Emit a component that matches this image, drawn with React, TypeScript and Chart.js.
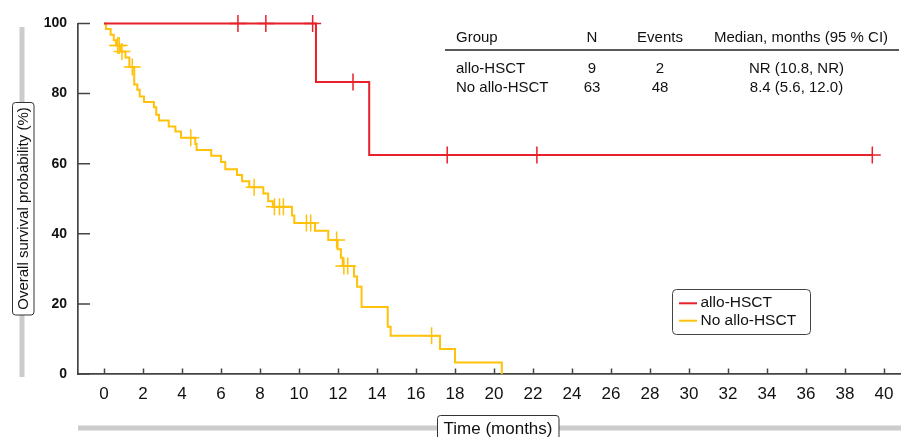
import React, { useEffect, useRef } from 'react';
import { Chart, registerables } from 'chart.js';

Chart.register(...registerables);

// ---------- data ----------
const xTicks = [0, 2, 4, 6, 8, 10, 12, 14, 16, 18, 20, 22, 24, 26, 28, 30, 32, 34, 36, 38, 40];
const yTicks = [0, 20, 40, 60, 80, 100];

const groups = ['allo-HSCT', 'No allo-HSCT'];
const groupN = ['9', '63'];
const groupEvents = ['2', '48'];
const groupMedian = ['NR (10.8, NR)', '8.4 (5.6, 12.0)'];
const tableHeaders = ['Group', 'N', 'Events', 'Median, months (95 % CI)'];

// allo-HSCT: step times and survival (%) after each step
const alloTimes = [0, 10.87, 13.6, 39.4];
const alloSurv = [100, 83.3, 62.5, 62.5];
const alloCensor = [6.87, 8.3, 10.7, 12.77, 17.6, 22.2, 39.4];

// No allo-HSCT
const noAlloTimes = [0, 0.1, 0.34, 0.5, 0.62, 0.85, 1.1, 1.3, 1.55, 1.71, 1.83, 2.05, 2.56, 2.68, 2.82, 3.32, 3.66, 3.95, 4.68, 4.75, 5.5, 6.0, 6.22, 6.82, 7.08, 7.45, 8.17, 8.42, 8.66, 9.64, 9.76, 10.82, 11.5, 11.98, 12.15, 12.24, 12.82, 12.98, 13.21, 14.55, 14.7, 17.23, 18.0, 20.4];
const noAlloSurv = [100, 98.4, 96.8, 95.2, 93.7, 92.0, 90.3, 87.6, 82.6, 81.1, 79.2, 77.6, 76.1, 74.0, 72.3, 70.6, 69.2, 67.4, 65.6, 63.9, 62.3, 60.5, 58.4, 56.8, 55.0, 53.3, 51.5, 49.3, 47.7, 45.2, 43.1, 40.9, 38.2, 35.6, 33.2, 30.8, 27.8, 24.9, 19.1, 13.5, 10.9, 7.1, 3.3, 0];
const noAlloCensor = [0.7, 0.78, 0.92, 1.45, 4.45, 7.7, 8.74, 9.0, 9.2, 10.38, 10.6, 11.93, 12.3, 12.5, 16.8];

// ---------- style ----------
const RED = '#E8202A';
const YELLOW = '#FFC10A';
const AXIS = '#444444';
const TEXT = '#111111';
const BAR = '#cccccc';
const FONT = '"Liberation Sans", Arial, Helvetica, sans-serif';

const X_MIN = -26 / 19.5;
const X_MAX = 797 / 19.5;

function toXY(ts: number[], ss: number[]) {
  return ts.map((t, i) => ({ x: t, y: ss[i] }));
}
function survAt(ts: number[], ss: number[], t: number) {
  let v = ss[0];
  for (let i = 0; i < ts.length; i++) if (ts[i] <= t) v = ss[i];
  return v;
}
function censorXY(cs: number[], ts: number[], ss: number[]) {
  return cs.map((c) => ({ x: c, y: survAt(ts, ss, c) }));
}

const fixArea = {
  id: 'fixArea',
  afterLayout(chart: any) {
    const xs = chart.scales.x;
    chart.chartArea.right = chart.width;
    chart.chartArea.width = chart.chartArea.right - chart.chartArea.left;
    xs.right = chart.width;
    xs.width = xs.right - xs.left;
    xs.configure();
  },
};

const decor = {
  id: 'decor',
  afterDraw(chart: any) {
    const ctx = chart.ctx as CanvasRenderingContext2D;
    const xs = chart.scales.x;
    const ys = chart.scales.y;
    const area = chart.chartArea;
    ctx.save();

    // inward tick marks
    ctx.strokeStyle = AXIS;
    ctx.lineWidth = 1.5;
    ctx.beginPath();
    xTicks.forEach((v) => {
      const px = Math.round(xs.getPixelForValue(v)) + 0.5;
      ctx.moveTo(px, area.bottom);
      ctx.lineTo(px, area.bottom - 5.5);
    });
    yTicks.forEach((v) => {
      const py = ys.getPixelForValue(v);
      ctx.moveTo(area.left, py);
      ctx.lineTo(area.left + 12, py);
    });
    ctx.stroke();

    // gray range bars
    ctx.fillStyle = BAR;
    ctx.fillRect(19.5, 27, 5, 350);
    ctx.fillRect(area.left, 425.5, chart.width - area.left, 5);

    // y-axis title box
    ctx.fillStyle = '#ffffff';
    ctx.strokeStyle = '#333333';
    ctx.lineWidth = 1;
    ctx.beginPath();
    (ctx as any).roundRect(12.5, 102.5, 21.5, 212.5, 3);
    ctx.fill();
    ctx.stroke();
    ctx.fillStyle = TEXT;
    ctx.font = `15px ${FONT}`;
    ctx.textAlign = 'center';
    ctx.textBaseline = 'middle';
    ctx.save();
    ctx.translate(23.5, 208.5);
    ctx.rotate(-Math.PI / 2);
    ctx.fillText('Overall survival probability (%)', 0, 0);
    ctx.restore();

    // x-axis title box
    ctx.fillStyle = '#ffffff';
    ctx.beginPath();
    (ctx as any).roundRect(437.5, 415.5, 121.5, 30, 3);
    ctx.fill();
    ctx.stroke();
    ctx.fillStyle = TEXT;
    ctx.font = `17px ${FONT}`;
    ctx.textBaseline = 'alphabetic';
    ctx.fillText('Time (months)', 498, 434);

    // summary table
    ctx.font = `15px ${FONT}`;
    ctx.fillStyle = TEXT;
    const colX = [456, 592, 660, 801];
    const valX = [456, 592, 660, 796.5];
    tableHeaders.forEach((h, i) => {
      ctx.textAlign = i === 0 ? 'left' : 'center';
      ctx.fillText(h, colX[i], 41.5);
    });
    ctx.strokeStyle = '#222222';
    ctx.lineWidth = 1.3;
    ctx.beginPath();
    ctx.moveTo(445, 50);
    ctx.lineTo(899, 50);
    ctx.stroke();
    const rowY = [72.7, 91.7];
    groups.forEach((g, r) => {
      const cells = [g, groupN[r], groupEvents[r], groupMedian[r]];
      cells.forEach((c, i) => {
        ctx.textAlign = i === 0 ? 'left' : 'center';
        ctx.fillText(c, valX[i], rowY[r]);
      });
    });

    // legend
    ctx.fillStyle = '#ffffff';
    ctx.strokeStyle = '#444444';
    ctx.lineWidth = 1;
    ctx.beginPath();
    (ctx as any).roundRect(672.5, 289.5, 138, 45, 4);
    ctx.fill();
    ctx.stroke();
    const legY = [303.3, 320.7];
    const legBase = [306.9, 325];
    [0, 1].forEach((di, r) => {
      const ds = chart.data.datasets[di];
      ctx.strokeStyle = ds.borderColor;
      ctx.lineWidth = 2;
      ctx.beginPath();
      ctx.moveTo(679, legY[r]);
      ctx.lineTo(697, legY[r]);
      ctx.stroke();
      ctx.fillStyle = TEXT;
      ctx.font = `15.5px ${FONT}`;
      ctx.textAlign = 'left';
      ctx.fillText(ds.label, 700.5, legBase[r]);
    });

    ctx.restore();
  },
};

export default function App() {
  const ref = useRef<HTMLCanvasElement>(null);
  useEffect(() => {
    document.body.style.margin = '0';
    Chart.defaults.font.family = FONT;
    const canvas = ref.current!;
    const chart = new Chart(canvas, {
      type: 'line',
      data: {
        datasets: [
          {
            label: groups[0],
            data: toXY(alloTimes, alloSurv),
            borderColor: RED,
            backgroundColor: RED,
            borderWidth: 2,
            stepped: 'before',
            pointRadius: 0,
            fill: false,
            clip: false,
          } as any,
          {
            label: groups[1],
            data: toXY(noAlloTimes, noAlloSurv),
            borderColor: YELLOW,
            backgroundColor: YELLOW,
            borderWidth: 2,
            stepped: 'before',
            pointRadius: 0,
            fill: false,
            clip: false,
          } as any,
          {
            label: 'allo-HSCT censored',
            data: censorXY(alloCensor, alloTimes, alloSurv),
            borderColor: RED,
            borderWidth: 1.5,
            showLine: false,
            pointStyle: 'cross',
            pointRadius: 8.5,
            clip: false,
          } as any,
          {
            label: 'No allo-HSCT censored',
            data: censorXY(noAlloCensor, noAlloTimes, noAlloSurv),
            borderColor: YELLOW,
            borderWidth: 1.5,
            showLine: false,
            pointStyle: 'cross',
            pointRadius: 8.5,
            clip: false,
          } as any,
        ],
      },
      options: {
        animation: false,
        responsive: false,
        devicePixelRatio: 1,
        layout: { padding: { top: 23.5, right: 0, left: 0, bottom: 0 } },
        plugins: { legend: { display: false }, tooltip: { enabled: false } },
        scales: {
          x: {
            type: 'linear',
            min: X_MIN,
            max: X_MAX,
            afterBuildTicks: (s: any) => {
              s.ticks = xTicks.map((v) => ({ value: v }));
            },
            afterFit: (s: any) => {
              s.height = 63;
              s.paddingLeft = 0;
              s.paddingRight = 0;
            },
            grid: { display: false, drawTicks: false },
            border: { display: true, color: AXIS, width: 1.7 },
            ticks: {
              padding: 10,
              color: TEXT,
              autoSkip: false,
              maxRotation: 0,
              font: { size: 17, family: FONT },
            },
          },
          y: {
            type: 'linear',
            min: 0,
            max: 100,
            afterBuildTicks: (s: any) => {
              s.ticks = yTicks.map((v) => ({ value: v }));
            },
            afterFit: (s: any) => {
              s.width = 78;
              s.paddingTop = 0;
              s.paddingBottom = 0;
            },
            grid: { display: false, drawTicks: false },
            border: { display: true, color: AXIS, width: 1.7 },
            ticks: {
              padding: 11,
              color: TEXT,
              font: { size: 14, weight: 'bold', family: FONT },
            },
          },
        },
      } as any,
      plugins: [fixArea, decor],
    });
    return () => chart.destroy();
  }, []);
  return (
    <div style={{ width: 901, height: 437 }}>
      <canvas ref={ref} width={901} height={437} style={{ display: 'block' }} />
    </div>
  );
}
